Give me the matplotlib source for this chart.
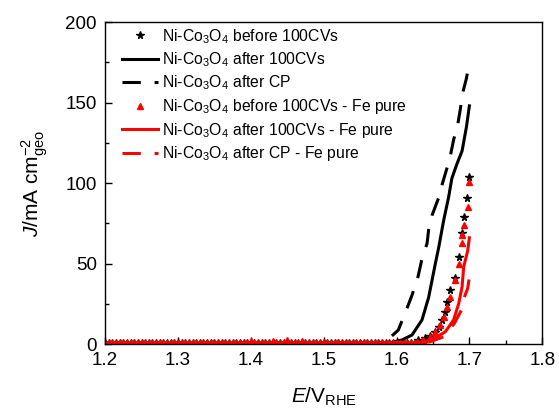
import numpy as np
import matplotlib
matplotlib.use("Agg")
import matplotlib.pyplot as plt
from matplotlib.ticker import MultipleLocator

plt.rcParams["font.family"] = ["Liberation Sans", "DejaVu Sans"]
plt.rcParams["mathtext.fontset"] = "custom"
plt.rcParams["mathtext.rm"] = "Liberation Sans"
plt.rcParams["mathtext.it"] = "Liberation Sans:italic"

# baseline potentials (V vs RHE) where all currents are ~0
E_base = np.round(np.arange(1.20, 1.625, 0.005), 3)

# Ni-Co3O4 before 100CVs (stars)
E_before = [1.630, 1.6396, 1.6464, 1.6533, 1.658, 1.6625, 1.666, 1.6694, 1.674,
            1.6808, 1.6853, 1.690, 1.692, 1.6968, 1.700]
J_before = [2.5, 3.5, 5.0, 7.6, 10.7, 15.0, 20.0, 26.0, 33.5,
            40.8, 54.0, 68.7, 79.0, 90.5, 104.0]

# Ni-Co3O4 after 100CVs (solid black)
E_after = [1.20, 1.55, 1.59, 1.6075, 1.6213, 1.635, 1.6441, 1.6533, 1.6579,
           1.6648, 1.6716, 1.676, 1.683, 1.690, 1.696, 1.700]
J_after = [0.5, 0.5, 0.7, 2.5, 5.6, 15.0, 29.0, 50.0, 60.0,
           77.0, 91.5, 103.0, 112.0, 120.0, 135.0, 148.0]

# Ni-Co3O4 after CP (dashed black)
E_cp = [1.20, 1.50, 1.570, 1.580, 1.590, 1.6025, 1.6144, 1.6213, 1.6295, 1.635,
        1.6419, 1.6441, 1.6488, 1.6579, 1.6625, 1.6684, 1.6739, 1.6784, 1.6839,
        1.6876, 1.6908, 1.6959, 1.6996]
J_cp = [0.5, 0.5, 0.6, 1.2, 3.5, 8.7, 22.2, 30.4, 41.8, 53.0,
        62.5, 71.0, 80.0, 91.0, 99.0, 108.0, 117.0, 127.0, 136.0,
        146.0, 156.0, 165.0, 174.0]

# Ni-Co3O4 before 100CVs - Fe pure (triangles)
E_before_fe = [1.628, 1.637, 1.6464, 1.6533, 1.660, 1.6647, 1.6694, 1.674,
               1.6808, 1.6853, 1.690, 1.690, 1.692, 1.6977, 1.700]
J_before_fe = [1.2, 2.5, 4.5, 7.6, 11.8, 17.0, 23.0, 29.0,
               39.8, 50.0, 62.5, 67.7, 74.0, 85.0, 100.8]

# Ni-Co3O4 after 100CVs - Fe pure (solid red)
E_after_fe = [1.20, 1.60, 1.6235, 1.6396, 1.6556, 1.667, 1.6784, 1.6853,
              1.690, 1.6922, 1.6977, 1.700]
J_after_fe = [0.8, 0.8, 0.8, 1.4, 4.5, 7.6, 15.0, 25.0, 35.6, 48.0, 58.0, 66.0]

# Ni-Co3O4 after CP - Fe pure (dashed red)
E_cp_fe = [1.20, 1.60, 1.630, 1.646, 1.6647, 1.6794, 1.689, 1.693, 1.6977, 1.7004]
J_cp_fe = [0.5, 0.5, 0.8, 1.4, 4.5, 12.8, 21.0, 29.0, 34.6, 43.0]

# small bumps seen on the baseline of the triangle series
bumps = {1.400: 2.0, 1.430: 1.8, 1.450: 2.2, 1.470: 2.0, 1.500: 1.5, 1.520: 1.5}

J_base_star = np.full(len(E_base), 0.4)
J_base_tri = np.array([bumps.get(e, 0.8) for e in E_base])

fig = plt.figure(figsize=(5.59, 4.11), dpi=100)
ax = fig.add_axes([0.188, 0.163, 0.782, 0.783])

lw = 2.2
dash = (6, 4.5)

ax.plot(np.concatenate([E_base, E_before]), np.concatenate([J_base_star, J_before]),
        linestyle="none", marker="*", color="black", markersize=5.5,
        label="Ni-Co$_3$O$_4$ before 100CVs")
ax.plot(E_after, J_after, color="black", lw=lw, label="Ni-Co$_3$O$_4$ after 100CVs")
ax.plot(E_cp, J_cp, color="black", lw=lw, linestyle=(0, dash),
        label="Ni-Co$_3$O$_4$ after CP")
ax.plot(np.concatenate([E_base, E_before_fe]), np.concatenate([J_base_tri, J_before_fe]),
        linestyle="none", marker="^", color="red", markersize=4,
        label="Ni-Co$_3$O$_4$ before 100CVs - Fe pure")
ax.plot(E_after_fe, J_after_fe, color="red", lw=lw,
        label="Ni-Co$_3$O$_4$ after 100CVs - Fe pure")
ax.plot(E_cp_fe, J_cp_fe, color="red", lw=lw, linestyle=(0, dash),
        label="Ni-Co$_3$O$_4$ after CP - Fe pure")

ax.set_xlim(1.2, 1.8)
ax.set_ylim(0, 200)
ax.xaxis.set_major_locator(MultipleLocator(0.1))
ax.xaxis.set_minor_locator(MultipleLocator(0.05))
ax.yaxis.set_major_locator(MultipleLocator(50))
ax.yaxis.set_minor_locator(MultipleLocator(25))
ax.tick_params(which="both", direction="in", labelsize=13.5, width=1)
ax.tick_params(which="major", length=5, pad=6)
ax.tick_params(which="minor", length=3)
for s in ax.spines.values():
    s.set_linewidth(1)

ax.set_xlabel("$E$/V$_{\\rm RHE}$", fontsize=15, labelpad=12)
ax.set_ylabel("$J$/mA cm$^{-2}_{\\rm geo}$", fontsize=15, labelpad=11)

ax.legend(loc="upper left", bbox_to_anchor=(0.02, 1.01), frameon=False,
          fontsize=11.3, handlelength=2.3, handletextpad=0.25,
          labelspacing=0.3, borderaxespad=0.1)

fig.savefig("out.png", dpi=100)
